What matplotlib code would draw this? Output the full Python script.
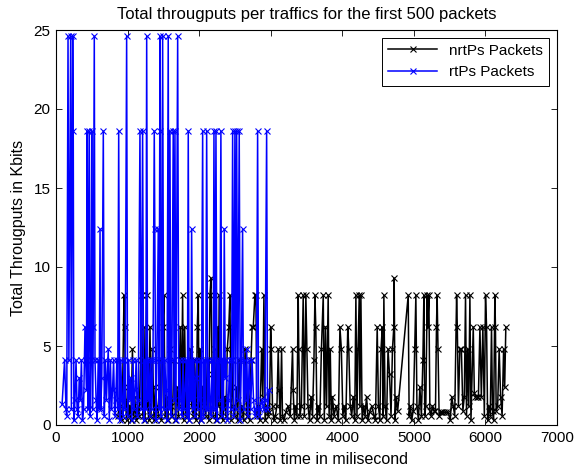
import matplotlib
matplotlib.use('Agg')
import matplotlib.pyplot as plt

plt.rcParams['font.family'] = ['Liberation Sans', 'DejaVu Sans']

# nrtPs traffic: time (ms) and throughput (kbits)
nrtps_time = [862, 893, 924, 950, 960, 970, 986, 1001, 1017, 1032, 1048, 1068, 1084, 1100, 1120, 1141,
              1162, 1182, 1197, 1213, 1229, 1244, 1266, 1281, 1296, 1313, 1327, 1348, 1369, 1389, 1410, 1431,
              1451, 1472, 1493, 1508, 1524, 1545, 1565, 1586, 1607, 1627, 1648, 1669, 1690, 1710, 1736, 1752,
              1769, 1783, 1798, 1814, 1834, 1855, 1876, 1897, 1917, 1938, 1959, 1974, 1988, 2000, 2016, 2031,
              2052, 2072, 2093, 2114, 2135, 2151, 2165, 2181, 2197, 2217, 2233, 2254, 2269, 2280, 2295, 2311,
              2331, 2352, 2373, 2393, 2414, 2430, 2445, 2461, 2476, 2497, 2518, 2538, 2559, 2580, 2600, 2621,
              2642, 2662, 2683, 2704, 2725, 2740, 2756, 2779, 2793, 2807, 2828, 2849, 2873, 2890, 2905, 2921,
              2942, 2963, 2983, 2999, 3009, 3025, 3045, 3066, 3087, 3105, 3118, 3133, 3152, 3164, 3185, 3211,
              3242, 3273, 3305, 3314, 3330, 3345, 3366, 3384, 3392, 3408, 3428, 3454, 3470, 3491, 3506, 3521,
              3542, 3563, 3584, 3604, 3618, 3630, 3646, 3666, 3687, 3708, 3734, 3749, 3765, 3780, 3803, 3816,
              3832, 3847, 3863, 3884, 3915, 3946, 3967, 3987, 4008, 4029, 4049, 4077, 4091, 4111, 4132, 4153,
              4174, 4190, 4205, 4220, 4237, 4246, 4260, 4277, 4298, 4318, 4339, 4360, 4381, 4412, 4443, 4463,
              4488, 4505, 4525, 4541, 4559, 4572, 4581, 4598, 4619, 4639, 4660, 4681, 4701, 4720, 4725, 4738,
              4753, 4774, 4921, 4934, 4950, 4970, 4991, 5012, 5028, 5043, 5064, 5084, 5105,
              5126, 5140, 5152, 5167, 5186, 5193, 5210, 5224, 5240, 5260, 5281, 5302, 5316, 5325, 5338, 5353,
              5374, 5395, 5416, 5447, 5478, 5509, 5529, 5550, 5571, 5597, 5607, 5623, 5643, 5664, 5685, 5705,
              5722, 5736, 5752, 5767, 5783, 5798, 5830, 5845, 5861, 5881, 5902, 5923, 5943, 5964, 5985, 6001,
              6016, 6031, 6047, 6068, 6085, 6099, 6114, 6132, 6140, 6150, 6171, 6192, 6212, 6233, 6254, 6269,
              6285]
nrtps_kbits = [0.6, 1.2, 0.3, 8.2, 6.2, 1.6, 0.3, 2.4, 0.6, 1.2, 0.3, 4.8, 0.6, 1.8, 0.3, 1.2,
               0.6, 4.1, 8.2, 0.6, 6.2, 0.3, 8.2, 1.2, 0.3, 6.2, 0.6, 4.8, 0.3, 2.4, 1.2, 0.6,
               4.1, 0.3, 6.2, 8.2, 0.6, 1.8, 0.3, 4.8, 1.2, 0.6, 4.1, 0.3, 2.4, 0.6, 6.2, 1.2,
               8.2, 0.3, 6.2, 0.6, 1.8, 0.3, 4.8, 1.2, 0.6, 4.1, 0.3, 6.2, 8.2, 0.6, 4.8, 0.3,
               2.4, 1.2, 0.6, 4.1, 0.3, 8.2, 9.3, 3.2, 0.6, 4.8, 0.3, 6.2, 1.2, 8.2, 0.6, 4.1,
               0.3, 1.8, 0.6, 4.8, 6.2, 8.2, 0.3, 4.1, 1.2, 0.6, 2.4, 0.3, 4.1, 0.6, 1.2, 0.3,
               4.8, 0.6, 2.4, 0.3, 4.1, 6.2, 6.2, 8.2, 8.2, 0.6, 1.2, 0.3, 4.8, 1.8, 8.2, 0.3,
               1.2, 0.6, 0.8, 6.2, 4.8, 1.2, 0.3, 0.6, 1.2, 4.8, 2.2, 0.3, 4.8, 0.6, 0.3, 0.8,
               1.2, 0.6, 4.8, 2.2, 0.3, 1.2, 0.6, 8.2, 4.8, 0.6, 1.2, 8.2, 0.6, 8.2, 4.8, 1.2,
               0.3, 1.8, 0.6, 4.1, 8.2, 6.2, 0.3, 1.2, 0.6, 4.8, 8.2, 0.3, 6.2, 1.2, 8.2, 0.6,
               4.8, 0.3, 1.8, 0.6, 1.2, 0.3, 6.2, 4.8, 0.6, 1.2, 0.3, 6.2, 4.8, 1.2, 0.6, 1.8,
               0.3, 8.2, 0.6, 4.8, 8.2, 1.2, 8.2, 0.3, 1.2, 0.6, 1.8, 0.3, 0.8, 1.2, 0.6, 0.3,
               6.2, 1.2, 0.3, 4.8, 6.2, 0.6, 8.2, 1.2, 0.3, 4.8, 3.2, 0.6, 4.8, 6.2, 9.3, 0.3,
               1.8, 0.9, 8.2, 0.6, 1.2, 0.3, 0.9, 4.8, 8.2, 1.2, 0.3, 2.4, 0.6,
               4.1, 8.2, 0.6, 1.2, 8.2, 6.2, 8.2, 0.9, 0.6, 1.2, 0.9, 0.9, 6.2, 8.2, 4.8, 0.6,
               0.8, 0.8, 0.8, 0.8, 0.8, 0.3, 1.8, 1.2, 0.6, 8.2, 6.2, 1.2, 4.8, 4.8, 0.9, 1.8,
               8.2, 0.6, 4.8, 1.2, 8.2, 0.3, 6.2, 2.0, 1.8, 1.8, 1.8, 6.2, 1.8, 6.2, 0.6, 8.2,
               6.2, 0.3, 1.2, 0.6, 6.2, 0.9, 0.3, 8.2, 6.2, 0.9, 1.2, 4.8, 1.8, 0.6, 4.8, 2.4,
               6.2]

# rtPs traffic: time (ms) and throughput (kbits)
rtps_time = [85, 120, 140, 150, 168, 180, 205, 215, 233, 241, 250, 265, 280, 295, 310, 325,
             340, 355, 370, 385, 405, 415, 425, 437, 445, 451, 464, 475, 488, 499, 510, 520,
             535, 545, 560, 575, 590, 603, 615, 625, 640, 661, 675, 690, 705, 730, 745, 760,
             775, 790, 805, 820, 835, 850, 862, 876, 890, 905, 920, 935, 950, 965, 987, 1000,
             1015, 1030, 1045, 1060, 1075, 1090, 1105, 1120, 1135, 1150, 1173, 1190, 1210, 1225, 1240, 1255,
             1267, 1280, 1295, 1310, 1325, 1340, 1355, 1373, 1380, 1395, 1410, 1429, 1440, 1453, 1460, 1470,
             1480, 1490, 1505, 1520, 1535, 1550, 1568, 1580, 1592, 1605, 1620, 1638, 1650, 1662, 1675, 1700,
             1715, 1730, 1745, 1760, 1775, 1790, 1805, 1820, 1835, 1848, 1860, 1875, 1885, 1895, 1910, 1925,
             1940, 1955, 1970, 1985, 2000, 2015, 2030, 2049, 2060, 2075, 2090, 2105, 2120, 2135, 2150, 2165,
             2180, 2195, 2207, 2220, 2235, 2250, 2265, 2280, 2290, 2304, 2315, 2330, 2340, 2351, 2365, 2380,
             2395, 2410, 2425, 2440, 2455, 2468, 2480, 2500, 2510, 2524, 2540, 2560, 2575, 2590, 2607, 2620,
             2635, 2650, 2665, 2680, 2700, 2720, 2740, 2760, 2780, 2800, 2817, 2830, 2850, 2875, 2900, 2920,
             2943, 2955, 2980]
rtps_kbits = [1.3, 4.1, 1.0, 0.6, 24.6, 4.1, 24.6, 1.0, 24.6, 18.6, 0.3, 1.6, 4.1, 1.0, 0.6, 3.0,
              1.6, 4.1, 0.3, 1.0, 6.2, 4.1, 2.2, 18.6, 1.0, 4.8, 18.6, 0.6, 4.1, 18.6, 1.0, 6.2,
              24.6, 4.1, 1.6, 0.3, 4.1, 1.0, 12.4, 1.0, 3.0, 18.6, 0.6, 4.1, 1.6, 4.8, 0.3, 4.1,
              1.0, 2.2, 4.1, 0.6, 1.6, 4.1, 1.0, 18.6, 0.3, 4.1, 1.6, 0.6, 4.1, 1.0, 24.6, 0.6,
              4.1, 1.6, 3.0, 0.3, 4.1, 1.0, 2.2, 4.1, 0.6, 1.6, 18.6, 1.0, 18.6, 0.3, 4.1, 1.0,
              24.6, 1.6, 4.1, 0.6, 4.1, 1.0, 4.1, 18.6, 12.4, 0.3, 4.1, 12.4, 1.0, 24.6, 18.6, 0.6,
              4.1, 24.6, 1.0, 4.1, 2.2, 0.3, 24.6, 1.0, 18.6, 0.6, 4.1, 18.6, 1.6, 18.6, 0.3, 24.6,
              1.0, 4.1, 1.6, 0.6, 4.1, 1.0, 2.2, 4.1, 0.6, 18.6, 0.3, 4.1, 1.6, 12.4, 1.0, 4.1,
              0.6, 3.0, 4.1, 1.0, 1.6, 4.1, 0.3, 18.6, 0.6, 4.1, 1.0, 18.6, 1.0, 4.1, 1.6, 0.6,
              4.1, 1.0, 18.6, 1.0, 18.6, 0.3, 4.1, 1.6, 4.1, 18.6, 0.6, 4.1, 1.0, 12.4, 3.0, 4.1,
              0.3, 1.6, 4.1, 1.0, 4.1, 18.6, 0.6, 18.6, 1.0, 18.6, 1.6, 18.6, 0.3, 4.1, 12.4, 1.0,
              4.1, 1.6, 4.8, 0.6, 4.1, 1.0, 4.1, 1.6, 0.6, 1.0, 18.6, 0.6, 1.0, 1.6, 1.0, 1.6,
              18.6, 1.0, 2.2]


def throughput_graphic(path_save):
    fig = plt.figure(figsize=(5.87, 4.70), dpi=100)
    ax = fig.add_axes([56 / 587, 45 / 470, 501 / 587, 395 / 470])

    ax.plot(nrtps_time, nrtps_kbits, '-x', color='black', linewidth=1.1,
            markersize=4, markeredgewidth=0.8, label='nrtPs Packets')
    ax.plot(rtps_time, rtps_kbits, '-x', color='blue', linewidth=1.1,
            markersize=4, markeredgewidth=0.8, label='rtPs Packets')

    ax.set_xlim(0, 7000)
    ax.set_ylim(0, 25)
    ax.set_xticks(range(0, 7001, 1000))
    ax.set_yticks(range(0, 26, 5))
    ax.tick_params(direction='in', top=True, right=True, labelsize=11, length=4, width=0.6, pad=4)
    for side in ax.spines.values():
        side.set_linewidth(0.8)

    ax.set_title('Total througputs per traffics for the first 500 packets', fontsize=12, pad=8)
    ax.set_xlabel('simulation time in milisecond', fontsize=11.5, labelpad=5)
    ax.set_ylabel('Total Througputs in Kbits', fontsize=11.5, labelpad=5)

    leg = ax.legend(loc='upper right', fontsize=11, fancybox=False, framealpha=1,
                    edgecolor='black', borderaxespad=0.5, handlelength=3.2)
    leg.get_frame().set_linewidth(0.7)

    fig.savefig(path_save, dpi=100)


if __name__ == '__main__':
    throughput_graphic('out.png')
